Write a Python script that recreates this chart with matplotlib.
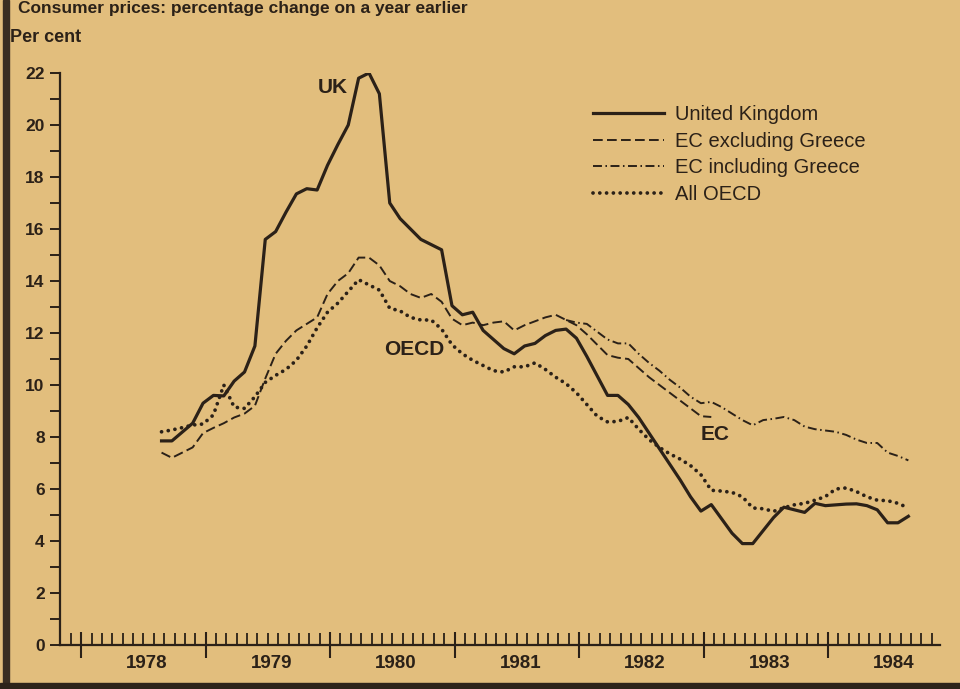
import pandas as pd
import matplotlib
matplotlib.use("Agg")
import matplotlib.pyplot as plt
from matplotlib.ticker import MultipleLocator
from matplotlib.patches import Rectangle

plt.rcParams["font.family"] = ["Liberation Sans", "DejaVu Sans"]

BG = "#E2BE7D"
INK = "#2B2118"

# ── DATA (monthly) ────────────────────────────────────────────────────────────

months = pd.period_range("1978-08", "1984-08", freq="M")
t = months.year + (months.month - 0.25) / 12

uk = [7.85, 7.85, 8.19, 8.53, 9.3, 9.6, 9.58, 10.15, 10.5, 11.5,
      15.6, 15.9, 16.65, 17.35, 17.55, 17.5, 18.45, 19.25, 20.0, 21.8,
      22.0, 21.2, 17.0, 16.4, 16.0, 15.6, 15.4, 15.2, 13.05, 12.7,
      12.8, 12.1, 11.75, 11.4, 11.2, 11.5, 11.6, 11.9, 12.1, 12.15,
      11.8, 11.1, 10.35, 9.6, 9.6, 9.25, 8.75, 8.15, 7.55, 6.95,
      6.35, 5.7, 5.15, 5.4, 4.85, 4.3, 3.9, 3.9, 4.4, 4.9,
      5.3, 5.2, 5.1, 5.45, 5.36, 5.39, 5.42, 5.43, 5.36, 5.2,
      4.7, 4.7, 4.95]

# Aug 1978 - Jan 1983
ec_excl = [7.4, 7.2, 7.4, 7.6, 8.15, 8.35, 8.53, 8.75, 8.9, 9.2,
           10.25, 11.2, 11.7, 12.1, 12.35, 12.6, 13.5, 14.0, 14.3, 14.9,
           14.9, 14.6, 14.0, 13.8, 13.5, 13.35, 13.5, 13.2, 12.55, 12.3,
           12.4, 12.3, 12.4, 12.45, 12.1, 12.3, 12.45, 12.6, 12.7, 12.5,
           12.3, 11.95, 11.55, 11.15, 11.05, 11.0, 10.65, 10.3, 10.0, 9.7,
           9.4, 9.1, 8.8, 8.77]

# Nov 1981 - Aug 1984
ec_incl = [12.5, 12.4, 12.35, 12.05, 11.75, 11.6, 11.6, 11.2, 10.85, 10.55, 10.2,
           9.9, 9.55, 9.3, 9.35, 9.15, 8.9, 8.65, 8.45, 8.65, 8.7,
           8.77, 8.65, 8.4, 8.3, 8.25, 8.2, 8.08, 7.9, 7.77, 7.77,
           7.4, 7.27, 7.1]

oecd = [8.2, 8.27, 8.36, 8.46, 8.5, 8.85, 10.0, 9.15, 9.1, 9.55,
        10.1, 10.37, 10.6, 10.95, 11.5, 12.2, 12.8, 13.15, 13.6, 14.05,
        13.85, 13.65, 12.95, 12.85, 12.6, 12.5, 12.5, 12.15, 11.55, 11.2,
        10.95, 10.75, 10.55, 10.5, 10.7, 10.7, 10.85, 10.6, 10.3, 10.05,
        9.7, 9.25, 8.8, 8.58, 8.6, 8.75, 8.3, 7.9, 7.6, 7.35,
        7.15, 6.9, 6.55, 5.95, 5.92, 5.87, 5.7, 5.27, 5.24, 5.14,
        5.28, 5.39, 5.45, 5.57, 5.71, 6.0, 6.04, 5.9, 5.7, 5.57,
        5.55, 5.45, 5.27]

years = [1978, 1979, 1980, 1981, 1982, 1983, 1984]

# ── FIGURE ────────────────────────────────────────────────────────────────────

fig = plt.figure(figsize=(9.6, 6.89), dpi=100, facecolor=BG)
ax = fig.add_axes([60 / 960, 1 - 645 / 689, 880 / 960, 572 / 689], facecolor=BG)

ax.plot(t, uk, color=INK, lw=2.3, solid_joinstyle="round", label="United Kingdom")
ax.plot(t[:len(ec_excl)], ec_excl, color=INK, lw=1.4,
        linestyle=(0, (5, 2.2)), label="EC excluding Greece")
ax.plot(t[len(t) - len(ec_incl):], ec_incl, color=INK, lw=1.4,
        linestyle=(0, (4.6, 1.8, 0.8, 1.8)), label="EC including Greece")
ax.plot(t, oecd, color=INK, lw=2.7, linestyle=(0, (0.01, 1.8)),
        dash_capstyle="round", label="All OECD")

ax.set_xlim(1977.83, 1984.90)
ax.set_ylim(0, 22)

for s in ["top", "right"]:
    ax.spines[s].set_visible(False)
for s in ["left", "bottom"]:
    ax.spines[s].set_color(INK)
    ax.spines[s].set_linewidth(1.6)

ax.set_xticks(years)
ax.xaxis.set_minor_locator(MultipleLocator(1 / 12))
ax.tick_params(axis="x", which="major", direction="inout", length=19, width=1.5,
               color=INK, labelbottom=False)
ax.tick_params(axis="x", which="minor", direction="in", length=9, width=1.3, color=INK)

ax.yaxis.set_major_locator(MultipleLocator(2))
ax.yaxis.set_minor_locator(MultipleLocator(1))
ax.tick_params(axis="y", which="both", direction="out", length=7, width=1.4,
               color=INK, pad=4)
ax.tick_params(axis="y", labelsize=12.5, labelcolor=INK)
for lab in ax.get_yticklabels():
    lab.set_fontweight("bold")

for y in years:
    ax.text(y + 0.53, -0.72, str(y), ha="center", va="center", fontsize=13.5,
            fontweight="bold", color=INK, clip_on=False)

# series labels
ax.text(1980.02, 21.45, "UK", ha="center", va="center", fontsize=15,
        fontweight="bold", color=INK)
ax.text(1980.68, 11.35, "OECD", ha="center", va="center", fontsize=15,
        fontweight="bold", color=INK)
ax.text(1983.09, 8.08, "EC", ha="center", va="center", fontsize=15,
        fontweight="bold", color=INK)

leg = ax.legend(loc="upper left", bbox_to_anchor=(0.606, 0.944), frameon=False,
                fontsize=14.5, handlelength=3.5, handletextpad=0.55,
                labelspacing=0.38, borderpad=0, borderaxespad=0)
for txt in leg.get_texts():
    txt.set_color(INK)

fig.text(10 / 960, 1 - 37 / 689, "Per cent", ha="left", va="center",
         fontsize=13, fontweight="bold", color=INK)

# title line at the top edge of the scan
fig.text(18 / 960, 1 - 1 / 689, "Consumer prices: percentage change on a year earlier",
         ha="left", va="top", fontsize=12.5, fontweight="bold", color=INK)

# dark scan edges
fig.patches.append(Rectangle((3 / 960, 0), 6 / 960, 1, transform=fig.transFigure,
                             color="#3A2E22", zorder=5))
fig.patches.append(Rectangle((0, 0), 1, 6 / 689, transform=fig.transFigure,
                             color="#2E241A", zorder=5))

fig.savefig("out.png", dpi=100, facecolor=BG)
